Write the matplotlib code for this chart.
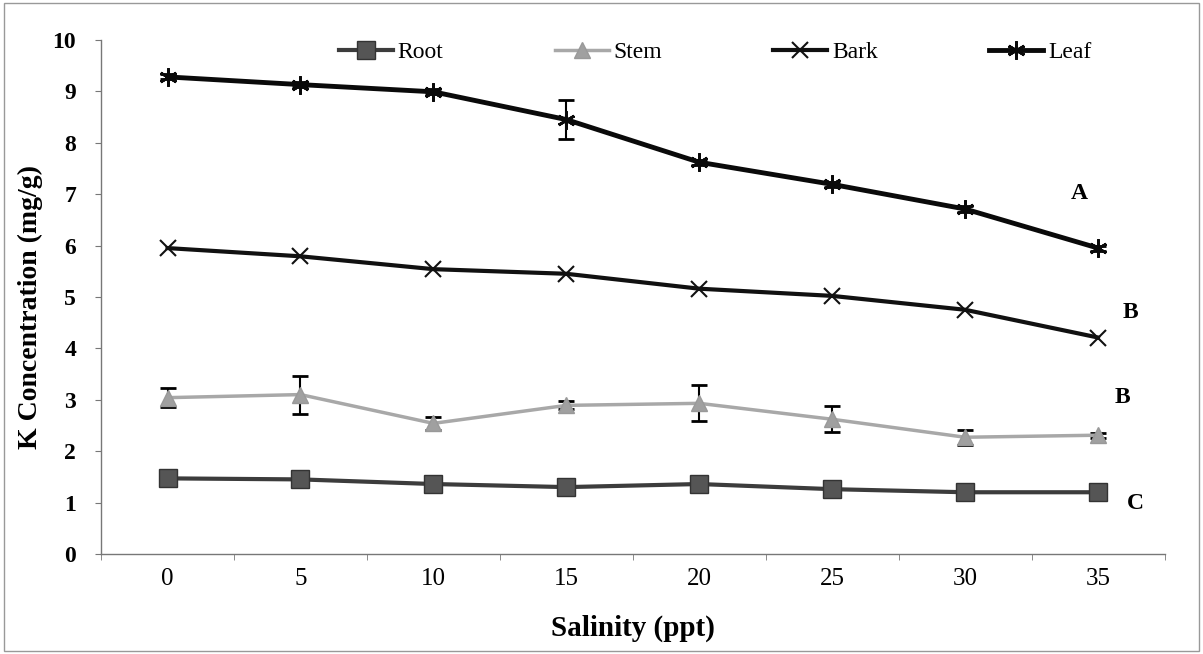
import numpy as np
import matplotlib
matplotlib.use('Agg')
import matplotlib.pyplot as plt
from matplotlib.patches import Rectangle

plt.rcParams['font.family'] = ['Liberation Serif', 'DejaVu Serif']

# Data
salinity = [0, 5, 10, 15, 20, 25, 30, 35]
root = [1.47, 1.45, 1.36, 1.30, 1.36, 1.26, 1.20, 1.20]
stem = [3.04, 3.10, 2.54, 2.89, 2.93, 2.62, 2.27, 2.31]
stem_err = [0.18, 0.37, 0.13, 0.08, 0.35, 0.25, 0.15, 0.05]
bark = [5.95, 5.79, 5.54, 5.45, 5.16, 5.02, 4.75, 4.21]
leaf = [9.28, 9.13, 8.99, 8.45, 7.62, 7.19, 6.71, 5.95]
leaf_err = [0.05, 0.05, 0.05, 0.38, 0.05, 0.05, 0.05, 0.05]
letters = ['A', 'B', 'B', 'C']
letter_pos = [(34.3, 7.02), (36.2, 4.69), (35.9, 3.05), (36.4, 0.99)]

fig = plt.figure(figsize=(12.03, 6.54), dpi=100)
ax = fig.add_axes([0.084, 0.153, 0.884, 0.786])

# Root
l_root, = ax.plot(salinity, root, color='#3c3c3c', lw=3, marker='s', ms=13,
                  mfc='#555555', mec='#333333', label='Root', zorder=3)
# Stem
eb_stem = ax.errorbar(salinity, stem, yerr=stem_err, color='#a8a8a8', lw=2.5, marker='^',
                      ms=12, mfc='#a0a0a0', mec='#999999', ecolor='black', elinewidth=1.5,
                      capsize=6, capthick=2, label='Stem', zorder=3)
# Bark
l_bark, = ax.plot(salinity, bark, color='#111111', lw=3, marker='x', ms=11, mew=1.5,
                  label='Bark', zorder=3)
# Leaf
eb_leaf = ax.errorbar(salinity, leaf, yerr=leaf_err, color='#0a0a0a', lw=3.5,
                      marker=(6, 2, 0), ms=13, mew=2, ecolor='black', elinewidth=1.5,
                      capsize=6, capthick=1.5, label='Leaf', zorder=3)

for txt, (xx, yy) in zip(letters, letter_pos):
    ax.text(xx, yy, txt, fontsize=17, fontweight='bold', ha='center', va='center',
            clip_on=False)

ax.set_xlim(-2.5, 37.5)
ax.set_ylim(0, 10)
ax.set_yticks(range(0, 11))
ax.set_xticks(salinity)
ax.set_xticks(np.arange(-2.5, 38, 5), minor=True)
ax.tick_params(axis='x', which='major', length=0, pad=10, labelsize=18)
ax.tick_params(axis='x', which='minor', length=4, color='#777777')
ax.tick_params(axis='y', length=4, color='#777777', pad=14, labelsize=17)
for lab in ax.get_yticklabels():
    lab.set_fontweight('bold')

for s in ['top', 'right']:
    ax.spines[s].set_visible(False)
for s in ['left', 'bottom']:
    ax.spines[s].set_color('#777777')
    ax.spines[s].set_linewidth(1)

ax.set_xlabel('Salinity (ppt)', fontsize=21, fontweight='bold', labelpad=18)
ax.set_ylabel('K Concentration (mg/g)', fontsize=20, fontweight='bold', labelpad=10)
ax.yaxis.set_label_coords(-0.055, 0.48)

handles = [l_root, eb_stem[0], l_bark, eb_leaf[0]]
labels = ['Root', 'Stem', 'Bark', 'Leaf']
ax.legend(handles, labels, loc='upper left', bbox_to_anchor=(327 / 1203, 1 - 30 / 654),
          bbox_transform=fig.transFigure, ncol=4, frameon=False, borderpad=0,
          fontsize=17, columnspacing=4.7, handlelength=2.3, handletextpad=0.2)

# thin frame round the whole figure
fig.patches.append(Rectangle((0.003, 0.005), 0.994, 0.99, transform=fig.transFigure,
                             fill=False, ec='#999999', lw=1))

fig.savefig('out.png', dpi=100)
